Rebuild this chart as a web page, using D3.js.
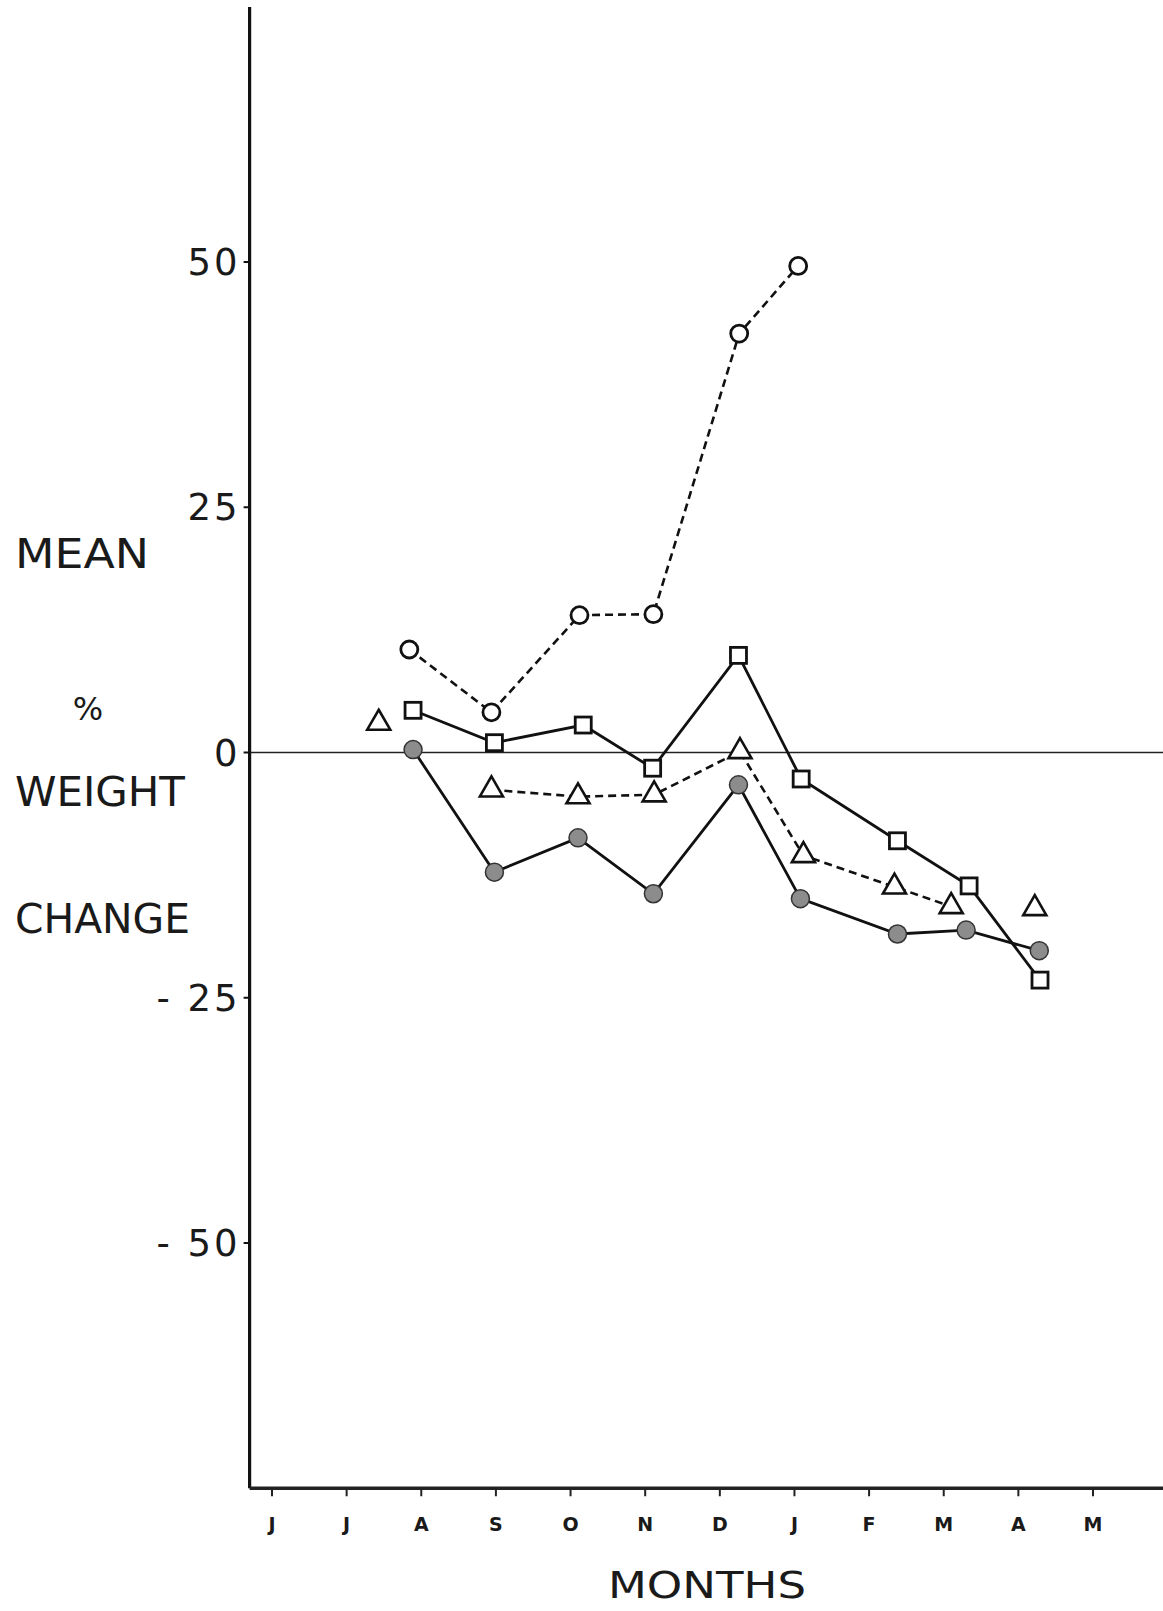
<!DOCTYPE html>
<html>
<head>
<meta charset="utf-8">
<script src="https://cdn.jsdelivr.net/npm/d3@7"></script>
<style>
  body { margin: 0; background: #fff; }
  svg { display: block; }
  text { font-family: "DejaVu Sans", sans-serif; fill: #1a1a1a; }
</style>
</head>
<body>
<script>
// months along the bottom, index 0 = J (June)
const months = ["J", "J", "A", "S", "O", "N", "D", "J", "F", "M", "A", "M"];
const yTicks = [50, 25, 0, -25, -50];
const yTickLabels = ["50", "25", "0", "- 25", "- 50"];

// open circles, dashed
const openX = [1.84, 2.94, 4.12, 5.11, 6.26, 7.05];
const openY = [10.5, 4.1, 14.0, 14.1, 42.7, 49.6];

// squares, solid
const squareX = [1.89, 2.98, 4.17, 5.10, 6.25, 7.09, 8.38, 9.34, 10.29];
const squareY = [4.3, 1.0, 2.8, -1.6, 9.9, -2.7, -9.0, -13.6, -23.2];

// triangles, dashed (plus two that stand alone)
const triX = [2.94, 4.10, 5.12, 6.27, 7.12, 8.34, 9.10];
const triY = [-3.8, -4.5, -4.3, 0.1, -10.5, -13.7, -15.7];
const loneTriX = [1.43, 10.22];
const loneTriY = [3.0, -15.9];

// filled circles, solid
const dotX = [1.89, 2.98, 4.10, 5.11, 6.25, 7.08, 8.38, 9.30, 10.28];
const dotY = [0.3, -12.2, -8.7, -14.4, -3.3, -14.9, -18.5, -18.1, -20.2];

const W = 1163, H = 1611;
const svg = d3.select("body").append("svg").attr("width", W).attr("height", H);

const x = d3.scaleLinear().domain([0, 11]).range([272, 1093]);
const y = d3.scaleLinear().domain([-50, 50]).range([1243, 262]);

const x0 = x(-0.3), x1 = W;
const yTop = y(76), yBot = y(-75);

// zero line
svg.append("line")
  .attr("x1", x0).attr("x2", x1)
  .attr("y1", y(0)).attr("y2", y(0))
  .attr("stroke", "#222").attr("stroke-width", 1.6);

// y axis
svg.append("line")
  .attr("x1", x0).attr("x2", x0).attr("y1", yTop).attr("y2", yBot)
  .attr("stroke", "#111").attr("stroke-width", 3.2);
// x axis
svg.append("line")
  .attr("x1", x0).attr("x2", x1).attr("y1", yBot).attr("y2", yBot)
  .attr("stroke", "#222").attr("stroke-width", 3.5);

yTicks.forEach((t, i) => {
  svg.append("line")
    .attr("x1", x0 - 6).attr("x2", x0).attr("y1", y(t)).attr("y2", y(t))
    .attr("stroke", "#111").attr("stroke-width", 2);
  svg.append("text")
    .attr("x", x0 - 9).attr("y", y(t) + 13)
    .attr("text-anchor", "end")
    .attr("font-size", 37)
    .attr("letter-spacing", 3)
    .text(yTickLabels[i]);
});

months.forEach((m, i) => {
  svg.append("line")
    .attr("x1", x(i)).attr("x2", x(i)).attr("y1", yBot).attr("y2", yBot + 8)
    .attr("stroke", "#222").attr("stroke-width", 2);
  svg.append("text")
    .attr("x", x(i)).attr("y", yBot + 43)
    .attr("text-anchor", "middle")
    .attr("font-size", 19)
    .attr("font-weight", "bold")
    .text(m);
});

// axis titles
svg.append("text").attr("x", 707).attr("y", 1598).attr("text-anchor", "middle")
  .attr("font-size", 38).attr("textLength", 198).attr("lengthAdjust", "spacingAndGlyphs")
  .text("MONTHS");
[["MEAN", 15, 568, 134], ["WEIGHT", 15, 806, 170], ["CHANGE", 15, 933, 175]].forEach(d => {
  svg.append("text").attr("x", d[1]).attr("y", d[2])
    .attr("font-size", 40).attr("textLength", d[3]).attr("lengthAdjust", "spacingAndGlyphs")
    .text(d[0]);
});
svg.append("text").attr("x", 88).attr("y", 720).attr("text-anchor", "middle")
  .attr("font-size", 32).text("%");

const line = d3.line().x(d => x(d[0])).y(d => y(d[1]));
const zip = (a, b) => a.map((v, i) => [v, b[i]]);

function series(xs, ys, dashed) {
  svg.append("path")
    .datum(zip(xs, ys))
    .attr("d", line)
    .attr("fill", "none")
    .attr("stroke", "#111")
    .attr("stroke-width", dashed ? 2.6 : 2.8)
    .attr("stroke-dasharray", dashed ? "8,5" : null);
}

series(openX, openY, true);
series(triX, triY, true);
series(squareX, squareY, false);
series(dotX, dotY, false);

// markers
svg.selectAll(".open").data(zip(openX, openY)).join("circle")
  .attr("cx", d => x(d[0])).attr("cy", d => y(d[1])).attr("r", 8.5)
  .attr("fill", "#fff").attr("stroke", "#111").attr("stroke-width", 2.8);

svg.selectAll(".sq").data(zip(squareX, squareY)).join("rect")
  .attr("x", d => x(d[0]) - 8).attr("y", d => y(d[1]) - 8)
  .attr("width", 16).attr("height", 16)
  .attr("fill", "#fff").attr("stroke", "#111").attr("stroke-width", 2.8);

const tri = d3.symbol().type(d3.symbolTriangle).size(230);
svg.selectAll(".tri").data(zip(triX, triY).concat(zip(loneTriX, loneTriY))).join("path")
  .attr("d", tri)
  .attr("transform", d => `translate(${x(d[0])},${y(d[1])})`)
  .attr("fill", "#fff").attr("stroke", "#111").attr("stroke-width", 2.6);

svg.selectAll(".dot").data(zip(dotX, dotY)).join("circle")
  .attr("cx", d => x(d[0])).attr("cy", d => y(d[1])).attr("r", 9)
  .attr("fill", "#8c8c8c").attr("stroke", "#333").attr("stroke-width", 1.5);
</script>
</body>
</html>
